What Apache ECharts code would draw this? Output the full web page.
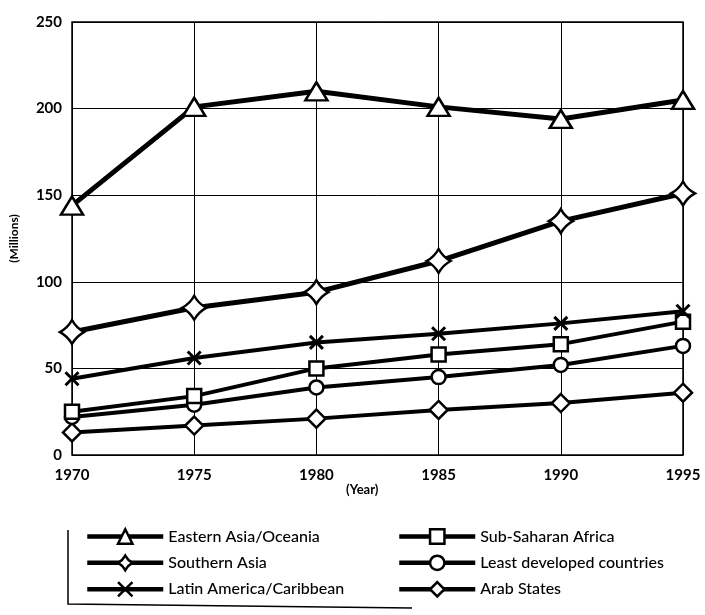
<!DOCTYPE html>
<html>
<head>
<meta charset="utf-8">
<script src="https://cdn.jsdelivr.net/npm/echarts@6/dist/echarts.min.js"></script>
<style>
  html, body { margin: 0; padding: 0; background: #fff; }
  #chart { width: 705px; height: 615px; }
</style>
</head>
<body>
<div id="chart"></div>
<script>
// years on the x axis
const years = ['1970', '1975', '1980', '1985', '1990', '1995'];

// values in millions
const easternAsia = [144, 201, 210, 201, 194, 205];
const southernAsia = [71, 85, 94, 112, 135, 151];
const latinAmerica = [44, 56, 65, 70, 76, 83];
const subSaharan = [25, 34, 50, 58, 64, 77];
const leastDeveloped = [22, 29, 39, 45, 52, 63];
const arabStates = [13, 17, 21, 26, 30, 36];

const font = 'Lato, "Noto Sans", sans-serif';

// 4 point star and x mark used by two of the series
const starPath = 'path://M0,-10 Q3.5,-3.5 10,0 Q3.5,3.5 0,10 Q-3.5,3.5 -10,0 Q-3.5,-3.5 0,-10 Z';
const crossPath = 'path://M-5,-5 L5,5 M5,-5 L-5,5';

function makeSeries(name, data, symbol, size, width) {
  return {
    name: name,
    type: 'line',
    data: data,
    symbol: symbol,
    symbolSize: size,
    showAllSymbol: true,
    lineStyle: { color: '#000', width: width },
    itemStyle: { color: '#fff', borderColor: '#000', borderWidth: 2.5 },
    emphasis: { disabled: true }
  };
}

const series = [
  makeSeries('Arab States', arabStates, 'diamond', 18, 4),
  makeSeries('Least developed countries', leastDeveloped, 'circle', 14, 4),
  makeSeries('Sub-Saharan Africa', subSaharan, 'rect', 14, 4),
  makeSeries('Latin America/Caribbean', latinAmerica, crossPath, 13, 4),
  makeSeries('Southern Asia', southernAsia, starPath, 24, 5),
  makeSeries('Eastern Asia/Oceania', easternAsia, 'triangle', [22, 18], 5)
];
// the x marks are strokes only
series[3].itemStyle = { color: '#000', borderColor: '#000', borderWidth: 3 };

function makeLegend(names, left) {
  return {
    data: names,
    orient: 'vertical',
    left: left,
    top: 528,
    padding: 0,
    itemWidth: 76,
    itemHeight: 18,
    itemGap: 9.5,
    lineStyle: { width: 4.5 },
    itemStyle: { borderWidth: 2.5 },
    textStyle: { color: '#000', fontSize: 16, fontWeight: 500, fontFamily: font }
  };
}

const chart = echarts.init(document.getElementById('chart'));

chart.setOption({
  backgroundColor: '#fff',
  animation: false,
  textStyle: { fontFamily: font, color: '#000' },
  grid: { left: 70, right: 22, top: 22, bottom: 160, show: true, borderColor: '#000', borderWidth: 1.5 },
  xAxis: {
    type: 'category',
    data: years,
    boundaryGap: false,
    axisLine: { show: false },
    axisTick: { show: false },
    axisLabel: { color: '#000', fontSize: 15, fontWeight: 'bold', margin: 13, fontFamily: font },
    splitLine: { show: true, lineStyle: { color: '#000', width: 1 } }
  },
  yAxis: {
    type: 'value',
    min: 0,
    max: 250,
    interval: 50,
    name: '(Millions)',
    nameLocation: 'middle',
    nameGap: 52,
    nameTextStyle: { color: '#000', fontSize: 12, fontWeight: 'bold', fontFamily: font },
    axisLine: { show: false },
    axisTick: { show: false },
    axisLabel: { color: '#000', fontSize: 15, fontWeight: 'bold', margin: 10, fontFamily: font },
    splitLine: { show: true, lineStyle: { color: '#000', width: 1 } }
  },
  legend: [
    makeLegend(['Eastern Asia/Oceania', 'Southern Asia', 'Latin America/Caribbean'], 85),
    makeLegend(['Sub-Saharan Africa', 'Least developed countries', 'Arab States'], 397)
  ],
  graphic: [
    {
      type: 'text',
      left: 346,
      top: 483,
      style: { text: '(Year)', fontSize: 13, fontWeight: 'bold', fill: '#000', fontFamily: font }
    },
    {
      type: 'polyline',
      shape: { points: [[68, 530], [68, 604], [412, 608]] },
      style: { stroke: '#000', lineWidth: 1.5, fill: null }
    }
  ],
  series: series
});
</script>
</body>
</html>
